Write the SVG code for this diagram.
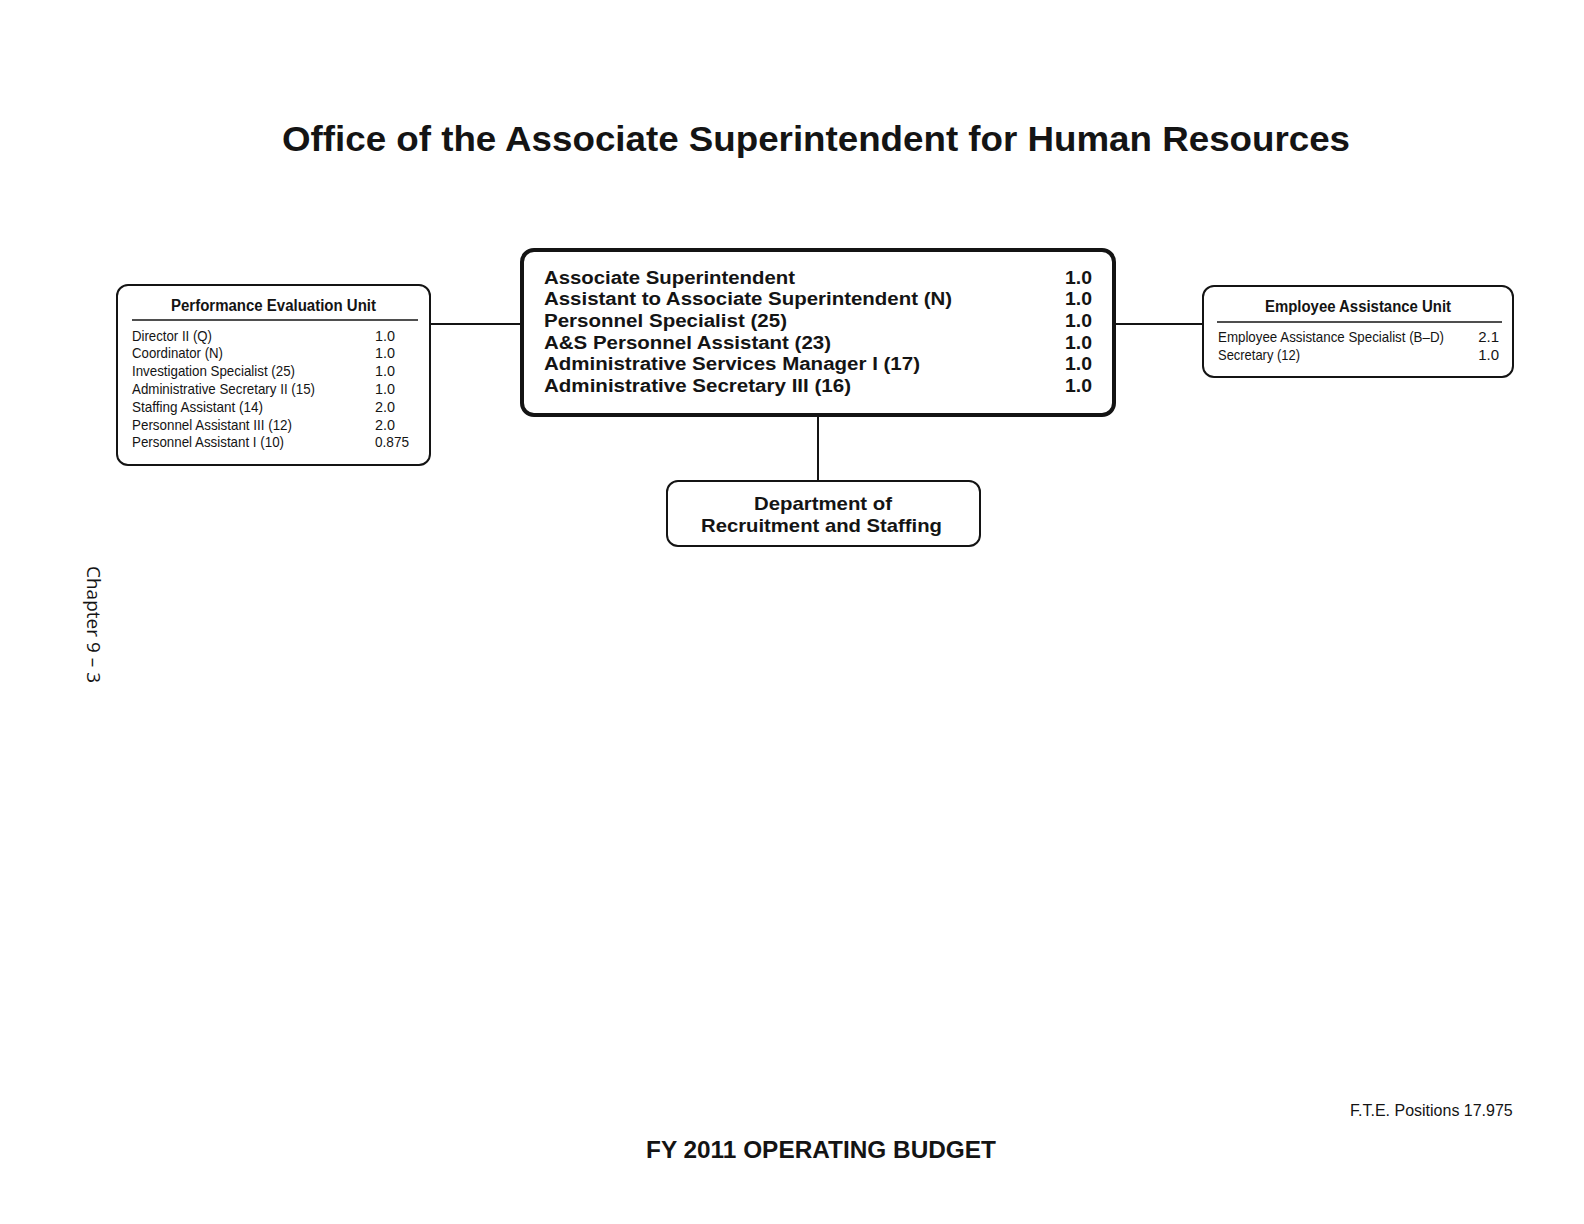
<svg xmlns="http://www.w3.org/2000/svg" width="1584" height="1224" viewBox="0 0 1584 1224">
<style>
.box{fill:#fff;stroke:#141414;stroke-width:2}
.main{fill:#fff;stroke:#141414;stroke-width:4}
.ln{stroke:#141414;stroke-width:2;fill:none}
.ul{stroke:#141414;stroke-width:1.6}
.t{font-family:"Liberation Sans",Arial,sans-serif;fill:#141414}
.b{font-weight:bold}
.hdr{font-size:16px;font-weight:bold}
.row{font-size:15px}
.big{font-size:18px;font-weight:bold}
</style>
<rect width="1584" height="1224" fill="#fff"/>
<text class="t b" x="282" y="151" font-size="35" textLength="1068" lengthAdjust="spacingAndGlyphs">Office of the Associate Superintendent for Human Resources</text>
<g id="connectors">
<line class="ln" x1="430" y1="324" x2="522" y2="324"/>
<line class="ln" x1="1114" y1="324" x2="1203" y2="324"/>
<line class="ln" x1="818" y1="415" x2="818" y2="481"/>
</g>
<g id="node-associate-superintendent">
<rect class="main" x="522" y="250" width="592" height="165" rx="12"/>
<g class="t big">
<text x="544" y="283.5" textLength="251" lengthAdjust="spacingAndGlyphs">Associate Superintendent</text>
<text x="544" y="305.2" textLength="408" lengthAdjust="spacingAndGlyphs">Assistant to Associate Superintendent (N)</text>
<text x="544" y="327" textLength="243" lengthAdjust="spacingAndGlyphs">Personnel Specialist (25)</text>
<text x="544" y="348.7" textLength="287" lengthAdjust="spacingAndGlyphs">A&amp;S Personnel Assistant (23)</text>
<text x="544" y="370.4" textLength="376" lengthAdjust="spacingAndGlyphs">Administrative Services Manager I (17)</text>
<text x="544" y="392" textLength="307" lengthAdjust="spacingAndGlyphs">Administrative Secretary III (16)</text>
<text x="1065" y="283.5" textLength="27" lengthAdjust="spacingAndGlyphs">1.0</text>
<text x="1065" y="305.2" textLength="27" lengthAdjust="spacingAndGlyphs">1.0</text>
<text x="1065" y="327" textLength="27" lengthAdjust="spacingAndGlyphs">1.0</text>
<text x="1065" y="348.7" textLength="27" lengthAdjust="spacingAndGlyphs">1.0</text>
<text x="1065" y="370.4" textLength="27" lengthAdjust="spacingAndGlyphs">1.0</text>
<text x="1065" y="392" textLength="27" lengthAdjust="spacingAndGlyphs">1.0</text>
</g>
</g>
<g id="node-performance-evaluation-unit">
<rect class="box" x="117" y="285" width="313" height="180" rx="11"/>
<text class="t hdr" x="171" y="311" textLength="205" lengthAdjust="spacingAndGlyphs">Performance Evaluation Unit</text>
<line class="ul" x1="132" y1="320" x2="418" y2="320"/>
<g class="t row">
<text x="132" y="340.5" textLength="80" lengthAdjust="spacingAndGlyphs">Director II (Q)</text>
<text x="132" y="358.3" textLength="91" lengthAdjust="spacingAndGlyphs">Coordinator (N)</text>
<text x="132" y="376.1" textLength="163" lengthAdjust="spacingAndGlyphs">Investigation Specialist (25)</text>
<text x="132" y="393.9" textLength="183" lengthAdjust="spacingAndGlyphs">Administrative Secretary II (15)</text>
<text x="132" y="411.7" textLength="131" lengthAdjust="spacingAndGlyphs">Staffing Assistant (14)</text>
<text x="132" y="429.5" textLength="160" lengthAdjust="spacingAndGlyphs">Personnel Assistant III (12)</text>
<text x="132" y="447.3" textLength="152" lengthAdjust="spacingAndGlyphs">Personnel Assistant I (10)</text>
<text x="375" y="340.5" textLength="20" lengthAdjust="spacingAndGlyphs">1.0</text>
<text x="375" y="358.3" textLength="20" lengthAdjust="spacingAndGlyphs">1.0</text>
<text x="375" y="376.1" textLength="20" lengthAdjust="spacingAndGlyphs">1.0</text>
<text x="375" y="393.9" textLength="20" lengthAdjust="spacingAndGlyphs">1.0</text>
<text x="375" y="411.7" textLength="20" lengthAdjust="spacingAndGlyphs">2.0</text>
<text x="375" y="429.5" textLength="20" lengthAdjust="spacingAndGlyphs">2.0</text>
<text x="375" y="447.3" textLength="34" lengthAdjust="spacingAndGlyphs">0.875</text>
</g>
</g>
<g id="node-employee-assistance-unit">
<rect class="box" x="1203" y="286" width="310" height="91" rx="11"/>
<text class="t hdr" x="1265" y="312" textLength="186" lengthAdjust="spacingAndGlyphs">Employee Assistance Unit</text>
<line class="ul" x1="1217" y1="322" x2="1502" y2="322"/>
<g class="t row">
<text x="1218" y="342" textLength="226" lengthAdjust="spacingAndGlyphs">Employee Assistance Specialist (B–D)</text>
<text x="1218" y="359.5" textLength="82" lengthAdjust="spacingAndGlyphs">Secretary (12)</text>
<text x="1499" y="342" text-anchor="end">2.1</text>
<text x="1499" y="359.5" text-anchor="end">1.0</text>
</g>
</g>
<g id="node-recruitment-staffing">
<rect class="box" x="667" y="481" width="313" height="65" rx="11"/>
<text class="t b" x="754" y="510" font-size="18.5" textLength="138" lengthAdjust="spacingAndGlyphs">Department of</text>
<text class="t b" x="701" y="532" font-size="18.5" textLength="241" lengthAdjust="spacingAndGlyphs">Recruitment and Staffing</text>
</g>
<text transform="translate(87,566) rotate(90)" font-family="'Open Sans','DejaVu Sans',sans-serif" font-size="18" fill="#141414" textLength="117" lengthAdjust="spacingAndGlyphs">Chapter 9 – 3</text>
<text class="t" x="1350" y="1116" font-size="16">F.T.E. Positions 17.975</text>
<text class="t b" x="646" y="1158" font-size="23" textLength="350" lengthAdjust="spacingAndGlyphs">FY 2011 OPERATING BUDGET</text>
</svg>
